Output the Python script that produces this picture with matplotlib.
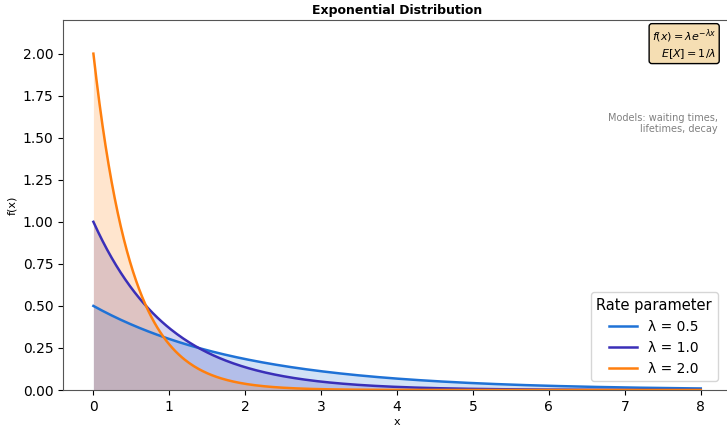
import numpy as np
import matplotlib.pyplot as plt

# rate parameters shown in the legend
rates = [0.5, 1.0, 2.0]
labels = ["λ = 0.5", "λ = 1.0", "λ = 2.0"]
colors = ["#1f72d6", "#3a2fb8", "#ff7f0e"]
x_max = 8

x = np.linspace(0, x_max, 400)

fig = plt.figure(figsize=(7.27, 4.26), dpi=100)
ax = fig.add_axes([0.0867, 0.0845, 0.919, 0.8685])

for lam, lab, c in zip(rates, labels, colors):
    y = lam * np.exp(-lam * x)
    ax.plot(x, y, color=c, lw=1.8, label=lab)
    ax.fill_between(x, y, color=c, alpha=0.2, lw=0)

ax.set_xlim(-0.4, 8.4)
ax.set_ylim(0, 2.2)
ax.set_xticks(range(0, 9))
ax.set_yticks(np.arange(0, 2.01, 0.25))
ax.tick_params(labelsize=10)
for s in ["left", "bottom", "top"]:
    ax.spines[s].set_color("#555555")
ax.spines["right"].set_visible(False)

ax.set_title("Exponential Distribution", fontsize=9, fontweight="bold", pad=4)
ax.set_xlabel("x", fontsize=8, labelpad=2)
ax.set_ylabel("f(x)", fontsize=8)

ax.text(0.978, 0.98, r"$f(x) = \lambda e^{-\lambda x}$" "\n" r"$E[X] = 1/\lambda$",
        transform=ax.transAxes, ha="right", va="top", fontsize=8,
        multialignment="right",
        bbox=dict(boxstyle="round,pad=0.25", facecolor="#f5deb3", edgecolor="black"))
ax.text(0.98, 0.75, "Models: waiting times,\nlifetimes, decay",
        transform=ax.transAxes, ha="right", va="top", fontsize=7,
        color="gray", multialignment="right")

leg = ax.legend(title="Rate parameter", loc="lower right", fontsize=10,
                title_fontsize=10.5, bbox_to_anchor=(0.99, 0.005))

fig.savefig("out.png", dpi=100)
